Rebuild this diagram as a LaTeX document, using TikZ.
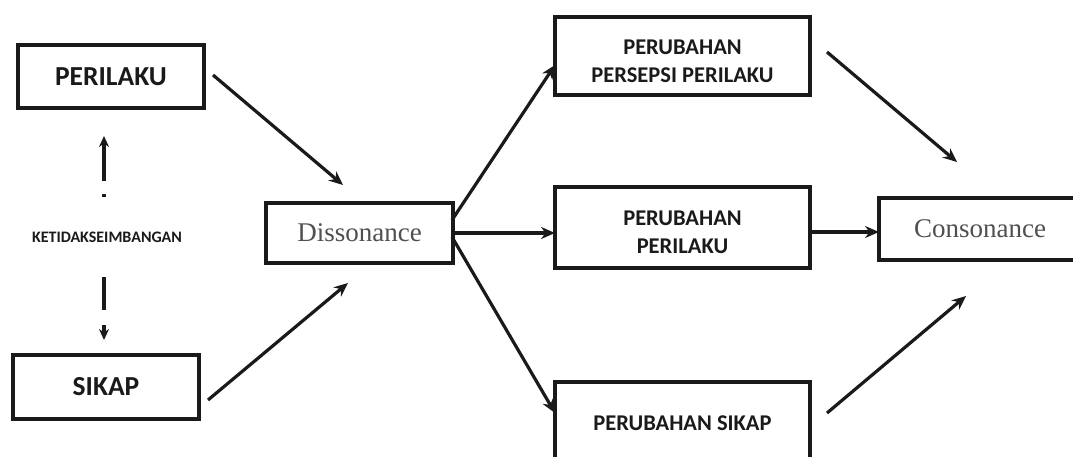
\documentclass[tikz,border=0pt]{standalone}
\usepackage{fontspec}
\setmainfont{Liberation Serif}
\newfontfamily\boxfont{Carlito}
\usetikzlibrary{arrows.meta}
\definecolor{ink}{HTML}{1A1A1A}
\definecolor{serifgrey}{HTML}{505050}
\tikzset{
  box/.style={draw=ink, line width=4.5pt, rectangle, inner sep=0pt, fill=white},
  capsbig/.style={font=\boxfont\bfseries\fontsize{27.5}{30}\selectfont, text=ink},
  capssmall/.style={font=\boxfont\bfseries\fontsize{22.5}{28}\selectfont, text=ink, align=center},
  lowtext/.style={label={[capssmall, yshift=-5pt]center:{#1}}},
  serif/.style={font=\fontsize{27}{30}\selectfont, text=serifgrey},
  flow/.style={draw=ink, line width=3.2pt, -{Stealth[length=14pt,width=12pt]}},
  hint/.style={draw=ink, line width=3.2pt, -{Stealth[length=11pt,width=10pt]}}
}
\begin{document}
\begin{tikzpicture}[x=1pt,y=-1pt]
  \clip (0,0) rectangle (1073,457);
  \fill[white] (0,0) rectangle (1073,457);

  % left column
  \node[box, capsbig, minimum width=186pt, minimum height=63pt] (perilaku) at (111,76.5) {PERILAKU};
  \node[box, capsbig, minimum width=186pt, minimum height=64pt] (sikap) at (106,387) {SIKAP};
  \node[font=\boxfont\bfseries\fontsize{16}{18}\selectfont, text=ink] (imbal) at (107,237) {KETIDAKSEIMBANGAN};

  % centre
  \node[box, serif, minimum width=187pt, minimum height=60pt] (diss) at (359.5,233) {Dissonance};

  % three outcomes
  \node[box, minimum width=255pt, minimum height=78pt,
        lowtext={PERUBAHAN\\PERSEPSI PERILAKU}] (persepsi) at (682.5,56) {};
  \node[box, minimum width=255pt, minimum height=81pt,
        lowtext={PERUBAHAN\\PERILAKU}] (perilakubaru) at (682.5,227.5) {};
  \node[box, capssmall, minimum width=255pt, minimum height=82pt] (sikapbaru) at (682.5,423) {PERUBAHAN SIKAP};

  % result
  \node[box, serif, minimum width=211pt, minimum height=62pt, text width=207pt, align=left] (cons) at (984.5,229) {\hspace{33pt}Consonance};

  % connector end points
  \coordinate (pOut) at (213,75);   \coordinate (dInTop) at (343,185);
  \coordinate (sOut) at (208,400);  \coordinate (dInBot) at (348,283);
  \coordinate (dOutTop) at (452,220); \coordinate (ppIn) at (555,65);
  \coordinate (dOutMid) at (453,233); \coordinate (pbIn) at (555,233);
  \coordinate (dOutBot) at (452,237); \coordinate (psIn) at (555,413);
  \coordinate (ppOut) at (827,52);  \coordinate (cInTop) at (957,162);
  \coordinate (pbOut) at (810,232); \coordinate (cInMid) at (879,232);
  \coordinate (psOut) at (827,413); \coordinate (cInBot) at (966,296);
  \coordinate (imbalUp) at (104,197); \coordinate (pTip) at (104,136);
  \coordinate (imbalDown) at (104,277); \coordinate (sTip) at (104,340);

  % imbalance hints
  \draw[hint, dash pattern=on 2.5pt off 13pt on 60pt] (imbalUp) -- (pTip);
  \draw[hint, dash pattern=on 33pt off 15pt on 20pt] (imbalDown) -- (sTip);

  % flows
  \draw[flow] (pOut) -- (dInTop);
  \draw[flow] (sOut) -- (dInBot);
  \draw[flow] (dOutTop) -- (ppIn);
  \draw[flow] (dOutMid) -- (pbIn);
  \draw[flow] (dOutBot) -- (psIn);
  \draw[flow] (ppOut) -- (cInTop);
  \draw[flow] (pbOut) -- (cInMid);
  \draw[flow] (psOut) -- (cInBot);
\end{tikzpicture}
\end{document}
